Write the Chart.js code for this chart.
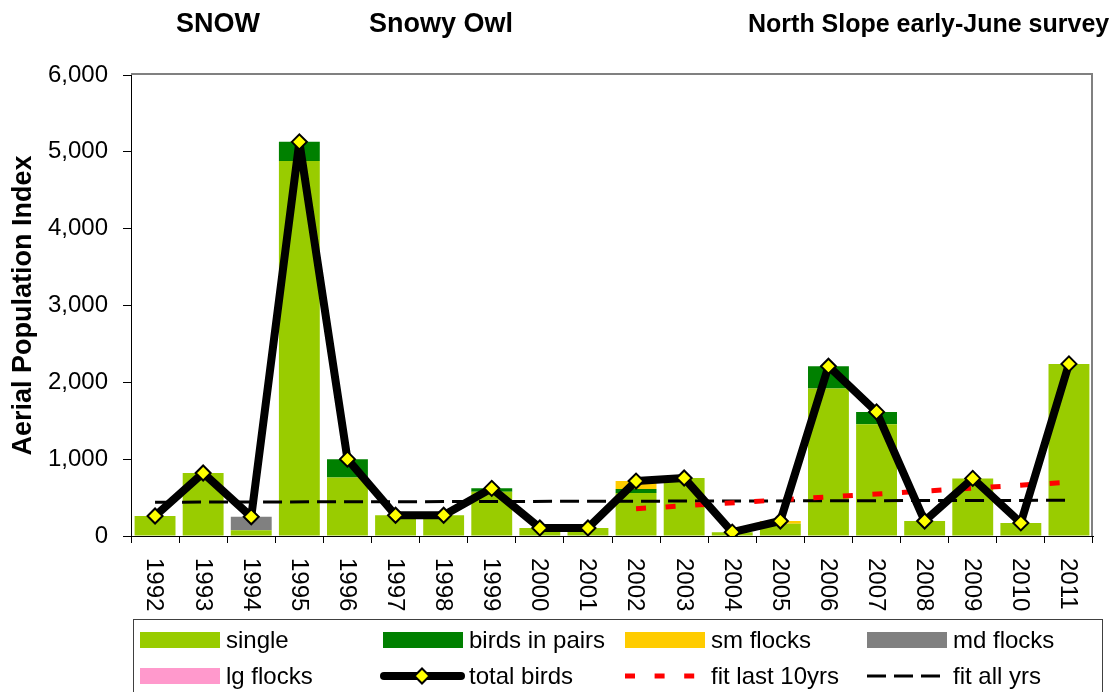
<!DOCTYPE html>
<html>
<head>
<meta charset="utf-8">
<title>Snowy Owl - North Slope early-June survey</title>
<script src="https://cdn.jsdelivr.net/npm/chart.js@4/dist/chart.umd.min.js"></script>
<style>
    html, body { margin: 0; padding: 0; background: #fff; }
</style>
</head>
<body>
<canvas id="chart" width="1120" height="692"></canvas>
<script>
const years = ['1992', '1993', '1994', '1995', '1996', '1997', '1998', '1999', '2000', '2001',
               '2002', '2003', '2004', '2005', '2006', '2007', '2008', '2009', '2010', '2011']

// aerial index by group size
const single       = [260, 820, 75, 4880, 760, 270, 270, 575, 105, 105, 560, 755, 50, 160, 1920, 1455, 195, 750, 170, 2240]
const birdsInPairs = [0, 0, 0, 250, 240, 0, 0, 45, 0, 0, 52, 0, 0, 0, 290, 160, 0, 0, 0, 0]
const smFlocks     = [0, 0, 0, 0, 0, 0, 0, 0, 0, 0, 103, 0, 0, 35, 0, 0, 0, 0, 0, 0]
const mdFlocks     = [0, 0, 175, 0, 0, 0, 0, 0, 0, 0, 0, 0, 0, 0, 0, 0, 0, 0, 0, 0]
const lgFlocks     = [0, 0, 0, 0, 0, 0, 0, 0, 0, 0, 0, 0, 0, 0, 0, 0, 0, 0, 0, 0]
const totalBirds   = [260, 820, 250, 5130, 1000, 270, 270, 620, 105, 105, 715, 755, 50, 195, 2210, 1615, 195, 750, 170, 2240]

// trend lines, end points only
const fitLast10 = [['2002', 355], ['2011', 700]]
const fitAll    = [['1992', 440], ['2011', 465]]

const yMin = 0
const yMax = 6000
const yStep = 1000

const titles = [
    ['SNOW', 176, 27],
    ['Snowy Owl', 369, 27],
    ['North Slope early-June survey', 748, 25]
]

const FONT = '"Liberation Sans", Arial, sans-serif'

function bar(label, data, color) {
    return {
        type: 'bar',
        label: label,
        data: data,
        backgroundColor: color,
        borderWidth: 0,
        barPercentage: 0.85,
        categoryPercentage: 1.0,
        stack: 'groups',
        order: 2
    }
}

function fitLine(label, points, color, width, dash, stack) {
    return {
        type: 'line',
        label: label,
        data: points.map(p => ({ x: p[0], y: p[1] })),
        borderColor: color,
        borderWidth: width,
        borderDash: dash,
        borderCapStyle: 'butt',
        pointRadius: 0,
        fill: false,
        stack: stack,
        order: 1
    }
}

const titlePlugin = {
    id: 'titles',
    afterDraw(chart) {
        const ctx = chart.ctx
        ctx.save()
        ctx.fillStyle = '#000'
        ctx.textBaseline = 'alphabetic'
        ctx.textAlign = 'left'
        titles.forEach(t => {
            ctx.font = 'bold ' + t[2] + 'px ' + FONT
            ctx.fillText(t[0], t[1], 32)
        })
        ctx.restore()
    }
}

// grey frame on top and right of the plot area
const framePlugin = {
    id: 'frame',
    beforeDatasetsDraw(chart) {
        const { ctx, chartArea: a } = chart
        ctx.save()
        ctx.strokeStyle = '#808080'
        ctx.lineWidth = 2
        ctx.beginPath()
        ctx.moveTo(a.left, a.top - 1)
        ctx.lineTo(a.right - 1, a.top - 1)
        ctx.lineTo(a.right - 1, a.bottom)
        ctx.stroke()
        ctx.restore()
    }
}

// year labels turned to read downwards
const yearLabelPlugin = {
    id: 'yearLabels',
    afterDraw(chart) {
        const ctx = chart.ctx
        const xs = chart.scales.x
        ctx.save()
        ctx.fillStyle = '#000'
        ctx.font = '24px ' + FONT
        ctx.textAlign = 'left'
        ctx.textBaseline = 'middle'
        chart.data.labels.forEach((label, i) => {
            ctx.save()
            ctx.translate(xs.getPixelForValue(i) - 1, chart.chartArea.bottom + 22)
            ctx.rotate(Math.PI / 2)
            ctx.fillText(label, 0, 0)
            ctx.restore()
        })
        ctx.restore()
    }
}

function diamond(ctx, x, y, r, fill) {
    ctx.beginPath()
    ctx.moveTo(x - r, y)
    ctx.lineTo(x, y - r)
    ctx.lineTo(x + r, y)
    ctx.lineTo(x, y + r)
    ctx.closePath()
    ctx.fillStyle = fill
    ctx.fill()
    ctx.lineWidth = 2
    ctx.strokeStyle = '#000'
    ctx.stroke()
}

// boxed legend, four columns by two rows
const legendPlugin = {
    id: 'gridLegend',
    afterDraw(chart) {
        const ctx = chart.ctx
        const box = { x: 133.5, y: 619.5, w: 969, h: 100 }
        const cols = [140, 383, 625, 867]
        const rows = [640, 676]
        const swatchW = 80

        ctx.save()
        ctx.strokeStyle = '#404040'
        ctx.lineWidth = 1
        ctx.strokeRect(box.x, box.y, box.w, box.h)

        ctx.font = '24px ' + FONT
        ctx.textBaseline = 'middle'
        ctx.textAlign = 'left'

        chart.data.datasets.forEach((ds, i) => {
            const x = cols[i % 4]
            const y = rows[Math.floor(i / 4)]
            if (ds.type === 'bar') {
                ctx.fillStyle = ds.backgroundColor
                ctx.fillRect(x, y - 8, swatchW, 16)
            } else if (ds.pointRadius > 0) {
                ctx.strokeStyle = ds.borderColor
                ctx.lineWidth = ds.borderWidth
                ctx.lineCap = 'round'
                ctx.setLineDash([])
                ctx.beginPath()
                ctx.moveTo(x - 3 + ds.borderWidth / 2, y)
                ctx.lineTo(x + 82 - ds.borderWidth / 2, y)
                ctx.stroke()
                diamond(ctx, x + 39, y, ds.pointRadius, ds.pointBackgroundColor)
            } else {
                ctx.strokeStyle = ds.borderColor
                ctx.lineWidth = ds.borderWidth
                ctx.lineCap = 'butt'
                ctx.setLineDash(ds.borderDash)
                ctx.beginPath()
                ctx.moveTo(x, y)
                ctx.lineTo(x + (ds.borderDash[0] * 3 + ds.borderDash[1] * 2), y)
                ctx.stroke()
                ctx.setLineDash([])
            }
            ctx.fillStyle = '#000'
            ctx.fillText(ds.label, x + 86, y + 1)
        })
        ctx.restore()
    }
}

const chart = new Chart(document.getElementById('chart'), {
    data: {
        labels: years,
        datasets: [
            bar('single', single, '#99CC00'),
            bar('birds in pairs', birdsInPairs, '#008000'),
            bar('sm flocks', smFlocks, '#FFCC00'),
            bar('md flocks', mdFlocks, '#808080'),
            bar('lg flocks', lgFlocks, '#FF99CC'),
            {
                type: 'line',
                label: 'total birds',
                data: totalBirds,
                borderColor: '#000',
                borderWidth: 8,
                borderJoinStyle: 'round',
                borderCapStyle: 'round',
                tension: 0,
                pointStyle: 'rectRot',
                pointRadius: 7.5,
                pointBackgroundColor: '#FFFF00',
                pointBorderColor: '#000',
                pointBorderWidth: 2,
                fill: false,
                stack: 'total',
                order: 0
            },
            fitLine('fit last 10yrs', fitLast10, '#FF0000', 5, [10, 19.6], 'fit10'),
            fitLine('fit all yrs', fitAll, '#000', 3, [19, 8], 'fitAll')
        ]
    },
    options: {
        responsive: false,
        devicePixelRatio: 1,
        animation: false,
        layout: { padding: { top: 75, right: 27, bottom: 0, left: 0 } },
        plugins: {
            legend: { display: false },
            tooltip: { enabled: false },
            title: { display: false }
        },
        scales: {
            x: {
                type: 'category',
                stacked: true,
                offset: true,
                grid: {
                    offset: true,
                    drawOnChartArea: false,
                    drawTicks: true,
                    tickLength: 7,
                    tickColor: '#000'
                },
                border: { color: '#000', width: 1 },
                ticks: { display: false },
                afterFit: s => { s.height = 156 }
            },
            y: {
                stacked: true,
                min: yMin,
                max: yMax,
                grid: {
                    drawOnChartArea: false,
                    drawTicks: true,
                    tickLength: 8,
                    tickColor: '#000'
                },
                border: { color: '#000', width: 1 },
                ticks: {
                    stepSize: yStep,
                    padding: 15,
                    color: '#000',
                    font: { family: FONT, size: 24 },
                    callback: v => v.toLocaleString('en-US')
                },
                title: {
                    display: true,
                    text: 'Aerial Population Index',
                    color: '#000',
                    font: { family: FONT, size: 27, weight: 'bold', lineHeight: 1.2 },
                    padding: { top: 7, bottom: 0 }
                },
                afterFit: s => { s.width = 131 }
            }
        }
    },
    plugins: [framePlugin, titlePlugin, yearLabelPlugin, legendPlugin]
})
</script>
</body>
</html>
